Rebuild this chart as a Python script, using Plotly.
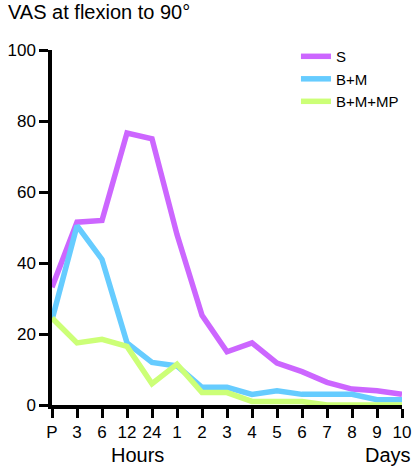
import plotly.graph_objects as go

categories = ["P", "3", "6", "12", "24", "1", "2", "3 ", "4", "5", "6 ", "7", "8", "9", "10"]
tick_labels = ["P", "3", "6", "12", "24", "1", "2", "3", "4", "5", "6", "7", "8", "9", "10"]
s_vals = [33.2, 51.5, 52.0, 76.6, 75.0, 48.0, 25.3, 15.0, 17.5, 11.8, 9.4, 6.4, 4.5, 4.0, 3.0]
bm_vals = [24.0, 50.5, 41.0, 17.5, 12.0, 11.0, 5.0, 5.0, 3.0, 4.0, 3.0, 3.0, 3.0, 1.5, 1.5]
bmmp_vals = [24.5, 17.5, 18.5, 16.5, 6.0, 11.5, 3.5, 3.5, 1.0, 1.0, 1.0, 0.0, 0.0, 0.0, 0.0]
series = [("S", s_vals, "#CC66FF"), ("B+M", bm_vals, "#66CCFF"), ("B+M+MP", bmmp_vals, "#CCFF77")]

x_idx = list(range(len(categories)))
FONT = "Liberation Sans, Arial, sans-serif"

fig = go.Figure()
for name, vals, color in series:
    fig.add_trace(go.Scatter(x=x_idx, y=vals, name=name, mode="lines",
                             line=dict(color=color, width=5.5), cliponaxis=False))

fig.update_layout(
    width=415, height=471,
    margin=dict(l=52, r=13, t=50, b=66, autoexpand=False),
    plot_bgcolor="white", paper_bgcolor="white",
    font=dict(family=FONT, size=17, color="black"),
    showlegend=True,
    legend=dict(x=0.697, y=1.028, xanchor="left", yanchor="top",
                font=dict(size=15), bgcolor="rgba(0,0,0,0)", tracegroupgap=0),
    title=dict(text="VAS at flexion to 90°", x=8 / 415, xref="container", y=0.99, yref="container",
               xanchor="left", yanchor="top", font=dict(size=20)),
)

fig.update_xaxes(range=[0, 14], tickmode="array", tickvals=x_idx, ticktext=tick_labels,
                 showgrid=False, zeroline=False, showline=True, linecolor="black", linewidth=3.5,
                 ticks="outside", ticklen=9, tickwidth=2.5, tickcolor="black", automargin=False,
                 tickfont=dict(size=17), layer="below traces")
fig.update_yaxes(range=[0, 100], tickvals=[0, 20, 40, 60, 80, 100],
                 showgrid=False, zeroline=False, showline=True, linecolor="black", linewidth=3.5,
                 ticks="outside", ticklen=9, tickwidth=2.5, tickcolor="black", automargin=False,
                 tickfont=dict(size=17), layer="below traces")

fig.add_annotation(text="Hours", x=3.4, xref="x", y=-0.142, yref="paper",
                   showarrow=False, font=dict(size=20), xanchor="center", yanchor="middle")
fig.add_annotation(text="Days", x=1.03, xref="paper", y=-0.142, yref="paper",
                   showarrow=False, font=dict(size=20), xanchor="right", yanchor="middle")

fig.write_html("out.html")
